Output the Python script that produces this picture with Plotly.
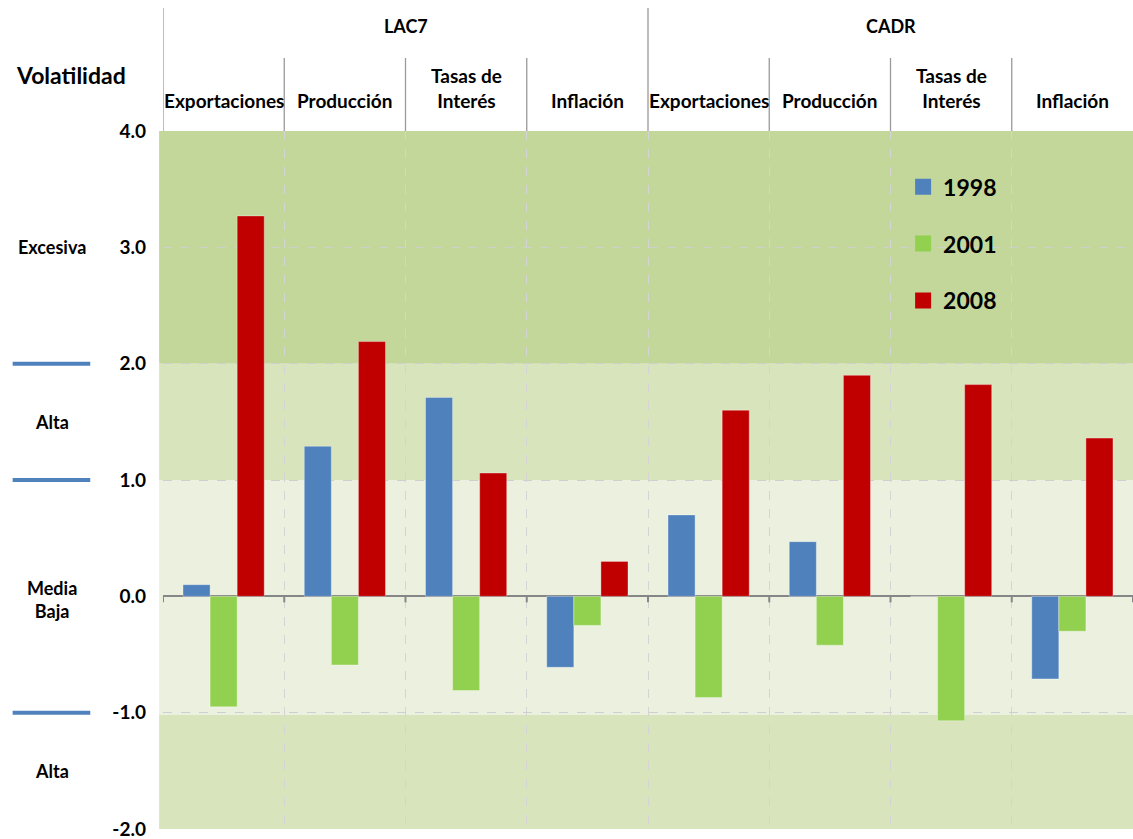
import plotly.graph_objects as go

groups = ["LAC7", "CADR"]
categories = ["Exportaciones", "Producción", "Tasas de<br>Interés", "Inflación",
              "Exportaciones", "Producción", "Tasas de<br>Interés", "Inflación"]
years = ["1998", "2001", "2008"]
v1998 = [0.10, 1.29, 1.71, -0.61, 0.70, 0.47, 0.0, -0.71]
v2001 = [-0.95, -0.59, -0.81, -0.25, -0.87, -0.42, -1.07, -0.30]
v2008 = [3.27, 2.19, 1.06, 0.30, 1.60, 1.90, 1.82, 1.36]
series = [v1998, v2001, v2008]
colors = ["#4f81bd", "#92d050", "#c00000"]

yticks = [-2, -1, 0, 1, 2, 3, 4]
bands = [(2, 4.04, "#c4d79b"), (1, 2, "#d8e4bc"), (-1.02, 1, "#ebf1de"), (-2, -1.02, "#d8e4bc")]
side_labels = [("Excesiva", 3.0), ("Alta", 1.5), ("Media<br>Baja", -0.03), ("Alta", -1.5)]
side_lines = [2.0, 1.0, -1.0]

FONT = "Lato"
xs = list(range(len(categories)))

fig = go.Figure()
for i, (name, vals) in enumerate(zip(years, series)):
    fig.add_trace(go.Bar(
        x=xs, y=vals, name=name, marker_color=colors[i],
        marker_line=dict(color="rgba(255,255,255,0.35)", width=1),
        showlegend=False,
    ))
# legend entries (square swatches)
for i, name in enumerate(years):
    fig.add_trace(go.Scatter(
        x=[None], y=[None], mode="markers", name=name, legendgroup=name,
        marker=dict(symbol="square", size=16, color=colors[i]), showlegend=True,
    ))

shapes = []
for y0, y1, c in bands:
    shapes.append(dict(type="rect", xref="paper", yref="y", x0=-0.004, x1=1, y0=y0, y1=y1,
                       fillcolor=c, line_width=0, layer="below"))
# header separators
n = len(categories)
for k in range(n):
    b = k - 0.5
    top = 1 + (131 - 58) / 698
    if k == 0 or k == n // 2:
        top = 1 + (131 - 8) / 698
    shapes.append(dict(type="line", xref="x", yref="paper", x0=b, x1=b, y0=1, y1=top,
                       line=dict(color="#9a9a9a", width=1.3)))
# ticks on zero line
for k in range(n + 1):
    b = k - 0.5
    shapes.append(dict(type="line", xref="x", yref="y", x0=b, x1=b, ysizemode="pixel",
                       yanchor=0, y0=0, y1=-6, line=dict(color="#868686", width=2)))
# side blue lines
for yv in side_lines:
    shapes.append(dict(type="line", xref="paper", yref="y", x0=-0.155, x1=-0.075, y0=yv, y1=yv,
                       line=dict(color="#4f81bd", width=4)))

annotations = []
for i, c in enumerate(categories):
    annotations.append(dict(text=c, x=i, xref="x", y=1, yref="paper", yshift=17,
                            yanchor="bottom", showarrow=False,
                            font=dict(family=FONT, size=19, color="#000000", weight="bold")))
for g, grp in enumerate(groups):
    annotations.append(dict(text=grp, x=g * 4 + 1.5, xref="x", y=1 + (131 - 26) / 698, yref="paper",
                            yanchor="middle", showarrow=False,
                            font=dict(family=FONT, size=18, color="#000000", weight="bold")))
annotations.append(dict(text="Volatilidad", x=(71 - 163) / 970, xref="paper",
                        y=1 + (131 - 75) / 698, yref="paper",
                        xanchor="center", yanchor="middle", showarrow=False,
                        font=dict(family=FONT, size=23, color="#000000", weight="bold")))
for t, yv in side_labels:
    annotations.append(dict(text=t, x=(52 - 163) / 970, xref="paper", y=yv, yref="y",
                            xanchor="center", yanchor="middle", showarrow=False,
                            font=dict(family=FONT, size=18, color="#000000", weight="bold")))

fig.update_layout(
    width=1133, height=839,
    margin=dict(l=163, r=0, t=131, b=10),
    paper_bgcolor="white", plot_bgcolor="white",
    barmode="group", bargap=0.33, bargroupgap=0,
    shapes=shapes, annotations=annotations,
    showlegend=True,
    legend=dict(x=0.763, y=0.951, xanchor="left", yanchor="top",
                bgcolor="rgba(0,0,0,0)", tracegroupgap=24, itemwidth=30,
                font=dict(family=FONT, size=23, color="#000000", weight="bold")),
    font=dict(family=FONT),
)
fig.update_xaxes(range=[-0.5, n - 0.5], tickvals=[k - 0.5 for k in range(n + 1)],
                 showticklabels=False, showgrid=True, griddash="dash", gridcolor="#d4d4d4",
                 gridwidth=1, zeroline=False, showline=False, ticks="")
fig.update_yaxes(range=[-2, 4], tickvals=yticks, ticktext=[f"{v:.1f}" for v in yticks],
                 showgrid=True, griddash="dash", gridcolor="#cfcfcf", gridwidth=1,
                 zeroline=True, zerolinecolor="#868686", zerolinewidth=2,
                 showline=False, ticks="", ticklabelstandoff=16,
                 ticklabeloverflow="allow",
                 tickfont=dict(family=FONT, size=19, color="#000000", weight="bold"))

fig.write_html("out.html")
